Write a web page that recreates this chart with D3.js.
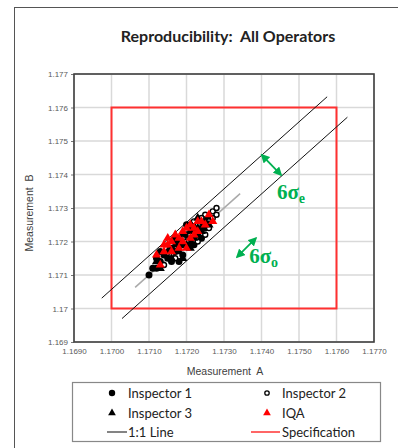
<!DOCTYPE html>
<html>
<head>
<meta charset="utf-8">
<script src="https://cdn.jsdelivr.net/npm/d3@7"></script>
<style>
  html, body { margin: 0; padding: 0; background: #fff; }
  svg { display: block; }
  text { white-space: pre; }
</style>
</head>
<body>
<svg id="chart" width="398" height="448"></svg>
<script>
// Axis ticks
const xTicks = [1.169, 1.170, 1.171, 1.172, 1.173, 1.174, 1.175, 1.176, 1.177];
const yTicks = [1.169, 1.170, 1.171, 1.172, 1.173, 1.174, 1.175, 1.176, 1.177];

// Measurements [A, B] per operator
const inspector1 = [
  [1.1710, 1.1710], [1.1712, 1.1712], [1.1713, 1.1714], [1.1712, 1.1715], [1.1714, 1.1716],
  [1.1715, 1.1715], [1.1716, 1.1718], [1.1717, 1.1717], [1.1718, 1.1720], [1.1717, 1.1721],
  [1.1719, 1.1719], [1.1720, 1.1722], [1.1721, 1.1720], [1.1722, 1.1723], [1.1721, 1.1724],
  [1.1723, 1.1722], [1.1724, 1.1725], [1.1725, 1.1724], [1.1726, 1.1727], [1.1724, 1.1721],
  [1.1719, 1.1716], [1.1716, 1.1714], [1.1722, 1.1719], [1.1718, 1.1714], [1.1720, 1.1725],
  [1.1713, 1.1717], [1.1711, 1.1712]
];
const inspector2 = [
  [1.1725, 1.1728], [1.1727, 1.1729], [1.1728, 1.1730], [1.1726, 1.1726], [1.1724, 1.1727],
  [1.1723, 1.1725], [1.1727, 1.1727], [1.1721, 1.1722], [1.1720, 1.1720], [1.1718, 1.1718],
  [1.1716, 1.1716], [1.1714, 1.1713], [1.1719, 1.1721], [1.1722, 1.1726], [1.1725, 1.1722],
  [1.1723, 1.1720], [1.1717, 1.1715], [1.1728, 1.1728], [1.1721, 1.1725], [1.1726, 1.1724]
];
const inspector3 = [
  [1.1713, 1.1712], [1.1715, 1.1717], [1.1717, 1.1719], [1.1718, 1.1717], [1.1720, 1.1719],
  [1.1721, 1.1723], [1.1722, 1.1721], [1.1723, 1.1724], [1.1724, 1.1723], [1.1725, 1.1726],
  [1.1719, 1.1722], [1.1716, 1.1715], [1.1712, 1.1714], [1.1726, 1.1725], [1.1721, 1.1718],
  [1.1719, 1.1715], [1.1717, 1.1721], [1.1723, 1.1727]
];
const iqa = [
  [1.1712, 1.1716], [1.1713, 1.1713], [1.1714, 1.1717], [1.1715, 1.1719], [1.1716, 1.1717],
  [1.1717, 1.1722], [1.1718, 1.1721], [1.1719, 1.1720], [1.1719, 1.1723], [1.1720, 1.1724],
  [1.1721, 1.1721], [1.1722, 1.1724], [1.1722, 1.1722], [1.1723, 1.1723], [1.1724, 1.1726],
  [1.1725, 1.1725], [1.1726, 1.1728], [1.1718, 1.1718], [1.1716, 1.1720], [1.1720, 1.1718],
  [1.1723, 1.1726], [1.1727, 1.1726], [1.1714, 1.1719], [1.1721, 1.1725], [1.1715, 1.1721]
];

// Reference lines
const oneToOne = [[1.17063, 1.17063], [1.17343, 1.17343]];
const upperBand = [[1.16974, 1.17031], [1.17575, 1.17632]];
const lowerBand = [[1.17028, 1.16970], [1.17629, 1.17571]];
const specLimits = { aMin: 1.170, aMax: 1.176, bMin: 1.170, bMax: 1.176 };

// Width annotations (arrow ends and label anchors)
const sigmaE = { arrow: [[1.17401, 1.17458], [1.17452, 1.17399]], label: [1.17441, 1.17326], sub: "e" };
const sigmaO = { arrow: [[1.17335, 1.17154], [1.17385, 1.17210]], label: [1.17367, 1.17136], sub: "o" };

const svg = d3.select("#chart");
const M = { left: 74, top: 74, right: 374, bottom: 342 };

const x = d3.scaleLinear().domain([1.169, 1.177]).range([M.left, M.right]);
const y = d3.scaleLinear().domain([1.169, 1.177]).range([M.bottom, M.top]);

// Outer frame
svg.append("rect").attr("x", 14.5).attr("y", 7.5).attr("width", 420).attr("height", 470)
  .attr("fill", "none").attr("stroke", "#555").attr("stroke-width", 1);

// Title
svg.append("text").attr("x", 228).attr("y", 42).attr("text-anchor", "middle")
  .attr("font-family", "Lato, 'Open Sans', sans-serif").attr("font-weight", "bold")
  .attr("font-size", 16).attr("fill", "#222").text("Reproducibility:  All Operators");

// Gridlines
const grid = svg.append("g");
grid.selectAll(".gx").data(xTicks).join("line")
  .attr("x1", d => x(d)).attr("x2", d => x(d)).attr("y1", M.top).attr("y2", M.bottom)
  .attr("stroke", "#d9d9d9").attr("stroke-width", 1.5);
grid.selectAll(".gy").data(yTicks).join("line")
  .attr("y1", d => y(d)).attr("y2", d => y(d)).attr("x1", M.left).attr("x2", M.right)
  .attr("stroke", "#d9d9d9").attr("stroke-width", 1.5);

// Axes
const tickFont = "'Liberation Sans', Arial, sans-serif";
const xAxis = svg.append("g").attr("transform", `translate(0,${M.bottom})`)
  .call(d3.axisBottom(x).tickValues(xTicks).tickFormat(d3.format(".4f")).tickSize(0).tickPadding(6));
const yAxis = svg.append("g").attr("transform", `translate(${M.left},0)`)
  .call(d3.axisLeft(y).tickValues(yTicks).tickFormat(d => String(+d.toFixed(3))).tickSize(3).tickPadding(3));
[xAxis, yAxis].forEach(g => {
  g.attr("font-family", tickFont);
  g.select(".domain").remove();
  g.selectAll("text").attr("font-size", 8).attr("fill", "#595959");
  g.selectAll("line").attr("stroke", "#777");
});

// Plot border
svg.append("rect").attr("x", M.left).attr("y", M.top)
  .attr("width", M.right - M.left).attr("height", M.bottom - M.top)
  .attr("fill", "none").attr("stroke", "#404040").attr("stroke-width", 1.6);

// Axis titles
svg.append("text").attr("x", 225).attr("y", 375).attr("text-anchor", "middle")
  .attr("font-family", tickFont).attr("font-size", 10.5).attr("fill", "#404040").text("Measurement  A");
svg.append("text").attr("transform", "translate(33,213) rotate(-90)").attr("text-anchor", "middle")
  .attr("font-family", tickFont).attr("font-size", 10.5).attr("fill", "#404040").text("Measurement  B");

// Specification box
svg.append("rect")
  .attr("x", x(specLimits.aMin)).attr("y", y(specLimits.bMax))
  .attr("width", x(specLimits.aMax) - x(specLimits.aMin))
  .attr("height", y(specLimits.bMin) - y(specLimits.bMax))
  .attr("fill", "none").attr("stroke", "#ff3030").attr("stroke-width", 2);

const line = d3.line().x(d => x(d[0])).y(d => y(d[1]));

// Band lines and 1:1 line
svg.append("path").attr("d", line(upperBand)).attr("stroke", "#111").attr("stroke-width", 1).attr("fill", "none");
svg.append("path").attr("d", line(lowerBand)).attr("stroke", "#111").attr("stroke-width", 1).attr("fill", "none");
svg.append("path").attr("d", line(oneToOne)).attr("stroke", "#aaa").attr("stroke-width", 1.5).attr("fill", "none");

// Markers
const tri = d3.symbol().type(d3.symbolTriangle).size(36)();
const pts = svg.append("g");
pts.selectAll(".i1").data(inspector1).join("circle")
  .attr("cx", d => x(d[0])).attr("cy", d => y(d[1])).attr("r", 3.5).attr("fill", "#000");
pts.selectAll(".i2").data(inspector2).join("circle")
  .attr("cx", d => x(d[0])).attr("cy", d => y(d[1])).attr("r", 2.5)
  .attr("fill", "#fff").attr("stroke", "#000").attr("stroke-width", 1.4);
pts.selectAll(".i3").data(inspector3).join("path")
  .attr("d", tri).attr("transform", d => `translate(${x(d[0])},${y(d[1])})`).attr("fill", "#000");
pts.selectAll(".iqa").data(iqa).join("path")
  .attr("d", tri).attr("transform", d => `translate(${x(d[0])},${y(d[1])})`).attr("fill", "#ff0000");

// Sigma width annotations
const green = "#00b050";
const defs = svg.append("defs");
defs.append("marker").attr("id", "ah").attr("viewBox", "0 0 10 10").attr("refX", 8).attr("refY", 5)
  .attr("markerWidth", 5).attr("markerHeight", 5).attr("orient", "auto-start-reverse")
  .append("path").attr("d", "M0,0 L10,5 L0,10 z").attr("fill", green);

[sigmaE, sigmaO].forEach(s => {
  svg.append("line")
    .attr("x1", x(s.arrow[0][0])).attr("y1", y(s.arrow[0][1]))
    .attr("x2", x(s.arrow[1][0])).attr("y2", y(s.arrow[1][1]))
    .attr("stroke", green).attr("stroke-width", 1.8)
    .attr("marker-start", "url(#ah)").attr("marker-end", "url(#ah)");
  const t = svg.append("text").attr("x", x(s.label[0])).attr("y", y(s.label[1]))
    .attr("font-family", "'Liberation Serif', 'DejaVu Serif', serif").attr("font-weight", "bold")
    .attr("font-size", 21).attr("fill", green);
  t.append("tspan").text("6σ");
  t.append("tspan").attr("font-size", 14).attr("dy", 4).text(s.sub);
});

// Legend
const lg = svg.append("g");
lg.append("rect").attr("x", 72.5).attr("y", 382.5).attr("width", 308).attr("height", 59)
  .attr("fill", "#fff").attr("stroke", "#888").attr("stroke-width", 1.2);
const legendFont = "Lato, 'Open Sans', sans-serif";
const legendItems = [
  { label: "Inspector 1", col: 0, row: 0, kind: "dot" },
  { label: "Inspector 2", col: 1, row: 0, kind: "ring" },
  { label: "Inspector 3", col: 0, row: 1, kind: "tri", color: "#000" },
  { label: "IQA", col: 1, row: 1, kind: "tri", color: "#ff0000" },
  { label: "1:1 Line", col: 0, row: 2, kind: "line", color: "#333" },
  { label: "Specification", col: 1, row: 2, kind: "line", color: "#ff0000" }
];
const colX = [112, 267], rowY = [393, 413, 432];
const legTri = d3.symbol().type(d3.symbolTriangle).size(26)();
legendItems.forEach(it => {
  const cx = colX[it.col], cy = rowY[it.row];
  if (it.kind === "dot") lg.append("circle").attr("cx", cx).attr("cy", cy).attr("r", 3.2).attr("fill", "#000");
  if (it.kind === "ring") lg.append("circle").attr("cx", cx).attr("cy", cy).attr("r", 2.2)
    .attr("fill", "#fff").attr("stroke", "#000").attr("stroke-width", 1.3);
  if (it.kind === "tri") lg.append("path").attr("d", legTri).attr("transform", `translate(${cx},${cy})`).attr("fill", it.color);
  if (it.kind === "line") lg.append("line").attr("x1", cx - (it.col ? 16 : 5)).attr("x2", cx + (it.col ? 13 : 15))
    .attr("y1", cy).attr("y2", cy).attr("stroke", it.color).attr("stroke-width", 1.2);
  lg.append("text").attr("x", it.col ? 282 : 128).attr("y", cy + 4.5)
    .attr("font-family", legendFont).attr("font-size", 13).attr("fill", "#222").text(it.label);
});
</script>
</body>
</html>
